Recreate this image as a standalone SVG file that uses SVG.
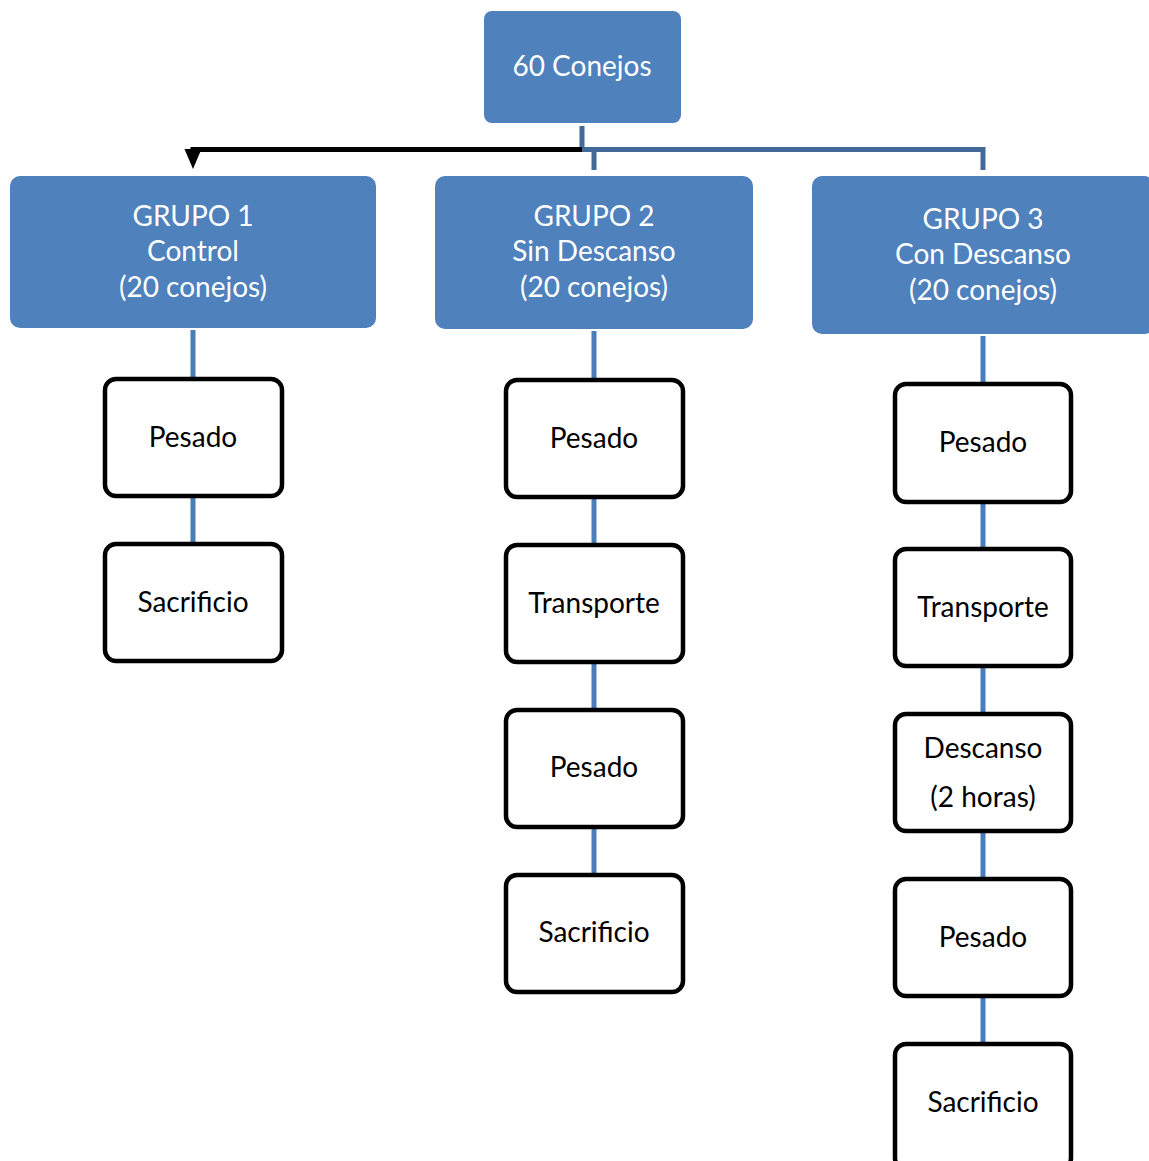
<svg xmlns="http://www.w3.org/2000/svg" width="1149" height="1161" viewBox="0 0 1149 1161">
<style>
.blue{fill:#4F81BD;}
.bt{fill:#fff;font-family:"Lato","Open Sans",sans-serif;font-size:28px;text-anchor:middle;}
.wb{fill:#fff;stroke:#000;stroke-width:4.5;}
.wt{fill:#000;font-family:"Lato","Open Sans",sans-serif;font-size:28px;text-anchor:middle;}
.ln{stroke:#4A7EBB;stroke-width:5;fill:none;}
.tr{stroke:#41699A;stroke-width:5;fill:none;}
</style>
<defs>
<marker id="ah" markerWidth="4" markerHeight="4" refX="2" refY="2" orient="auto" markerUnits="strokeWidth">
<path d="M0,0.3 L4,2 L0,3.7 Z" fill="#000"/>
</marker>
</defs>
<g id="connectors">
<path class="tr" d="M582,126 V149.5 H983 V170"/>
<path class="tr" d="M594,149.5 V170"/>
<path d="M582,149.5 H193 V159" stroke="#000" stroke-width="5" fill="none" marker-end="url(#ah)"/>
<path class="ln" d="M193,330 V379 M193,496 V544"/>
<path class="ln" d="M594,331 V380 M594,497 V545 M594,662 V710 M594,827 V875"/>
<path class="ln" d="M983,336 V384 M983,502 V549 M983,666 V714 M983,831 V879 M983,996 V1044"/>
</g>
<g id="root"><rect class="blue" x="484" y="11" width="197" height="112" rx="8"/><text class="bt" x="582" y="76">60 Conejos</text></g>
<g id="g1"><rect class="blue" x="10" y="176" width="366" height="152" rx="10"/>
<text class="bt" x="193" y="226">GRUPO 1</text><text class="bt" x="193" y="261">Control</text><text class="bt" x="193" y="297">(20 conejos)</text></g>
<g id="g2"><rect class="blue" x="435" y="176" width="318" height="153" rx="10"/>
<text class="bt" x="594" y="226">GRUPO 2</text><text class="bt" x="594" y="261">Sin Descanso</text><text class="bt" x="594" y="297">(20 conejos)</text></g>
<g id="g3"><rect class="blue" x="812" y="176" width="342" height="158" rx="10"/>
<text class="bt" x="983" y="229">GRUPO 3</text><text class="bt" x="983" y="264">Con Descanso</text><text class="bt" x="983" y="300">(20 conejos)</text></g>
<g id="c1a"><rect class="wb" x="105" y="379" width="177" height="117" rx="11"/><text class="wt" x="193" y="447">Pesado</text></g>
<g id="c1b"><rect class="wb" x="105" y="544" width="177" height="117" rx="11"/><text class="wt" x="193" y="612">Sacrificio</text></g>
<g id="c2a"><rect class="wb" x="506" y="380" width="177" height="117" rx="11"/><text class="wt" x="594" y="448">Pesado</text></g>
<g id="c2b"><rect class="wb" x="506" y="545" width="177" height="117" rx="11"/><text class="wt" x="594" y="613">Transporte</text></g>
<g id="c2c"><rect class="wb" x="506" y="710" width="177" height="117" rx="11"/><text class="wt" x="594" y="777">Pesado</text></g>
<g id="c2d"><rect class="wb" x="506" y="875" width="177" height="117" rx="11"/><text class="wt" x="594" y="942">Sacrificio</text></g>
<g id="c3a"><rect class="wb" x="895" y="384" width="176" height="118" rx="11"/><text class="wt" x="983" y="452">Pesado</text></g>
<g id="c3b"><rect class="wb" x="895" y="549" width="176" height="117" rx="11"/><text class="wt" x="983" y="617">Transporte</text></g>
<g id="c3c"><rect class="wb" x="895" y="714" width="176" height="117" rx="11"/><text class="wt" x="983" y="758">Descanso</text><text class="wt" x="983" y="807">(2 horas)</text></g>
<g id="c3d"><rect class="wb" x="895" y="879" width="176" height="117" rx="11"/><text class="wt" x="983" y="947">Pesado</text></g>
<g id="c3e"><rect class="wb" x="895" y="1044" width="176" height="125" rx="11"/><text class="wt" x="983" y="1112">Sacrificio</text></g>
</svg>
